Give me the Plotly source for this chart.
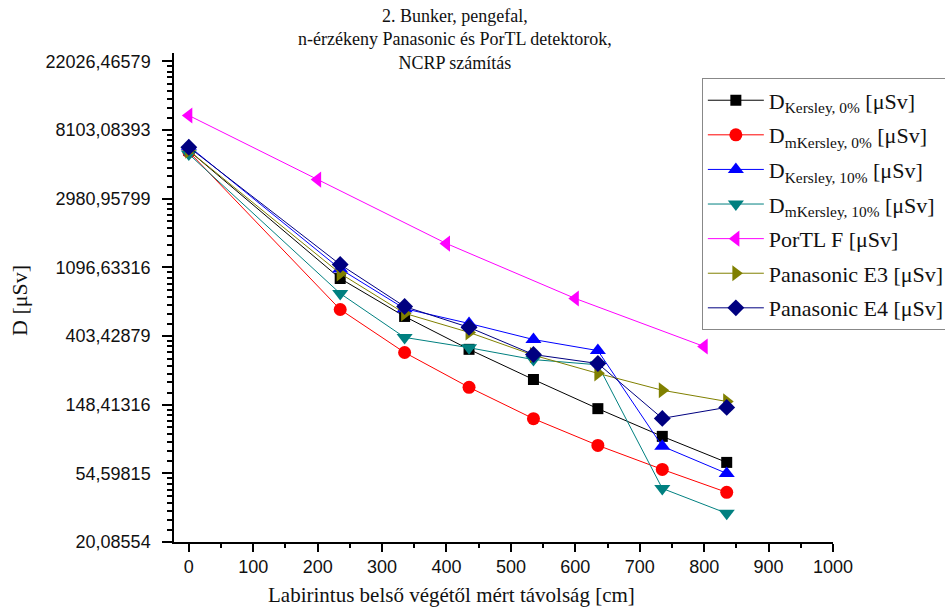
import numpy as np
import plotly.graph_objects as go

# ---- data ----
x_main = [0, 235, 335, 435, 535, 635, 735, 835]
d_kersley_0 = [6000, 931, 536, 332, 214, 140, 93.5, 64]
d_mkersley_0 = [5900, 593, 317, 191, 121, 82, 57.8, 41.4]
d_kersley_10 = [6400, 1070, 600, 484, 383, 326, 81, 54.5]
d_mkersley_10 = [5700, 749, 395, 340, 286, 265, 43.8, 30.5]
x_portl = [0, 200, 400, 600, 800]
portl_f = [10000, 3930, 1549, 696, 346]
panasonic_e3 = [6000, 1002, 561, 425, 305, 234, 183, 155.5]
panasonic_e4 = [6300, 1142, 619, 457, 308, 270, 121.5, 142.6]

series_names = [
    "D<sub>Kersley, 0%</sub> [μSv]",
    "D<sub>mKersley, 0%</sub> [μSv]",
    "D<sub>Kersley, 10%</sub> [μSv]",
    "D<sub>mKersley, 10%</sub> [μSv]",
    "PorTL F [μSv]",
    "Panasonic E3 [μSv]",
    "Panasonic E4 [μSv]",
]
ytick_exponents = [3, 4, 5, 6, 7, 8, 9, 10]
ytick_labels = ["20,08554", "54,59815", "148,41316", "403,42879",
                "1096,63316", "2980,95799", "8103,08393", "22026,46579"]
xtick_vals = [0, 100, 200, 300, 400, 500, 600, 700, 800, 900, 1000]

title_text = "2. Bunker, pengefal,<br>n-érzékeny Panasonic és PorTL detektorok,<br>NCRP számítás"
xtitle = "Labirintus belső végétől mért távolság [cm]"
ytitle = "D [μSv]"

# ---- styling ----
colors = ["#000000", "#FF0000", "#0000FF", "#008080", "#FF00FF", "#808000", "#000080"]
symbols = ["square", "circle", "triangle-up", "triangle-down",
           "triangle-left", "triangle-right", "diamond"]
sizes = [11, 13, 14, 14, 14, 14, 13]

xs = [x_main, x_main, x_main, x_main, x_portl, x_main, x_main]
ys = [d_kersley_0, d_mkersley_0, d_kersley_10, d_mkersley_10,
      portl_f, panasonic_e3, panasonic_e4]

fig = go.Figure()
for i in range(7):
    fig.add_trace(go.Scatter(
        x=xs[i], y=ys[i], name=series_names[i], mode="lines+markers",
        line=dict(color=colors[i], width=1),
        marker=dict(symbol=symbols[i], size=sizes[i], color=colors[i]),
        legendgroup=str(i),
    ))

ytick_vals = [float(np.exp(e)) for e in ytick_exponents]
minor_vals = []
for e in ytick_exponents[:-1]:
    a, b = np.exp(e), np.exp(e + 1)
    for k in range(1, 9):
        minor_vals.append(float(a + k * (b - a) / 9))

serif = "Liberation Serif, Times New Roman, serif"
sans = "Liberation Sans, Arial, sans-serif"

fig.update_layout(
    width=945, height=610,
    margin=dict(l=174, r=112, t=53, b=68, autoexpand=False),
    paper_bgcolor="white", plot_bgcolor="white",
    showlegend=True,
    legend=dict(
        x=0.801, y=0.948, xanchor="left", yanchor="top",
        font=dict(family=serif, size=22, color="#111"),
        bordercolor="#888", borderwidth=1, bgcolor="white",
        tracegroupgap=3, itemwidth=56,
    ),
    xaxis=dict(
        range=[-23, 1000], showgrid=False, zeroline=False,
        showline=True, linecolor="black", linewidth=1.5,
        ticks="outside", ticklen=8, tickwidth=1.5, tickcolor="black",
        tickvals=xtick_vals,
        tickfont=dict(family=sans, size=18, color="#111"),
        minor=dict(ticks="outside", ticklen=4, tickcolor="black", dtick=50, tick0=0, showgrid=False),
    ),
    yaxis=dict(
        type="log",
        range=[3 * np.log10(np.e), 10.12 * np.log10(np.e)],
        showgrid=False, zeroline=False,
        showline=True, linecolor="black", linewidth=1.5,
        ticks="outside", ticklen=10, tickwidth=1.5, tickcolor="black",
        tickvals=ytick_vals, ticktext=ytick_labels,
        ticklabelstandoff=8,
        tickfont=dict(family=sans, size=18, color="#111"),
        minor=dict(ticks="outside", ticklen=5, tickcolor="black", tickvals=minor_vals, showgrid=False),
    ),
    annotations=[
        dict(text=title_text, x=0.4264, y=1.1, xref="paper", yref="paper",
             xanchor="center", yanchor="top", showarrow=False,
             font=dict(family=serif, size=18, color="#111")),
        dict(text=xtitle, x=0.4218, y=-0.109, xref="paper", yref="paper",
             xanchor="center", yanchor="middle", showarrow=False,
             font=dict(family=serif, size=21, color="#111")),
        dict(text=ytitle, x=-0.2345, y=0.494, xref="paper", yref="paper",
             xanchor="center", yanchor="middle", showarrow=False, textangle=-90,
             font=dict(family=serif, size=22, color="#111")),
    ],
)

fig.write_html("out.html")
